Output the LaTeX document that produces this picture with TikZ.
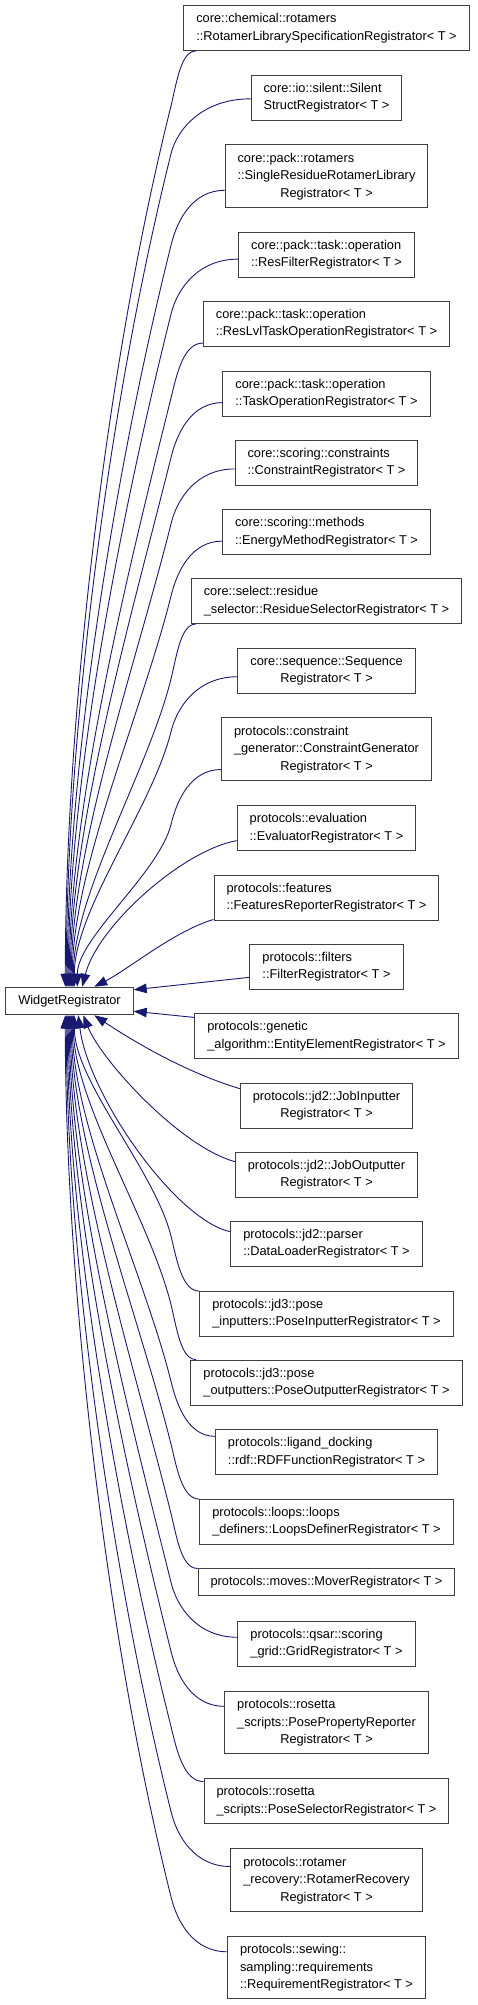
\documentclass[tikz,border=0pt]{standalone}
\usepackage{fontspec}
\setmainfont{Liberation Sans}
\usepackage{tikz}
\usetikzlibrary{arrows.meta,calc}
\definecolor{EdgeBlue}{RGB}{25,25,112}
\definecolor{BoxLine}{RGB}{64,64,64}
\newcommand{\cname}[1]{\begin{tabular}{@{}l@{}}#1\end{tabular}}
\newcommand{\lastc}[1]{\multicolumn{1}{@{}c@{}}{#1}}

\begin{document}
\begin{tikzpicture}[x=1pt,y=-1pt,
  klass/.style={draw=BoxLine,line width=1pt,fill=white,inner xsep=12.5pt,inner ysep=5pt,
    font=\fontsize{12.8}{17.5}\selectfont},
  inh/.style={EdgeBlue,line width=0.9pt,-{Triangle[length=13pt,width=9.5pt]}}]
  \useasboundingbox (0,0) rectangle (477,2005);
  % base class
  \node[klass,minimum width=127pt] (w) at (69.5,1001) {\cname{WidgetRegistrator}};
  % derived registrators, one column
  \node[klass] (c1) at (326.5,28) {\cname{core::chemical::rotamers\\\lastc{::RotamerLibrarySpecificationRegistrator< T >}}};
  \node[klass] (c2) at (326.5,97.5) {\cname{core::io::silent::Silent\\\lastc{StructRegistrator< T >}}};
  \node[klass] (c3) at (326.5,176) {\cname{core::pack::rotamers\\::SingleResidueRotamerLibrary\\\lastc{Registrator< T >}}};
  \node[klass] (c4) at (326.5,254.5) {\cname{core::pack::task::operation\\\lastc{::ResFilterRegistrator< T >}}};
  \node[klass] (c5) at (326.5,323.5) {\cname{core::pack::task::operation\\\lastc{::ResLvlTaskOperationRegistrator< T >}}};
  \node[klass] (c6) at (326.5,393.5) {\cname{core::pack::task::operation\\\lastc{::TaskOperationRegistrator< T >}}};
  \node[klass] (c7) at (326.5,462.5) {\cname{core::scoring::constraints\\\lastc{::ConstraintRegistrator< T >}}};
  \node[klass] (c8) at (326.5,532) {\cname{core::scoring::methods\\\lastc{::EnergyMethodRegistrator< T >}}};
  \node[klass] (c9) at (326.5,601) {\cname{core::select::residue\\\lastc{\_selector::ResidueSelectorRegistrator< T >}}};
  \node[klass] (c10) at (326.5,670.5) {\cname{core::sequence::Sequence\\\lastc{Registrator< T >}}};
  \node[klass] (c11) at (326.5,749) {\cname{protocols::constraint\\\_generator::ConstraintGenerator\\\lastc{Registrator< T >}}};
  \node[klass] (c12) at (326.5,828) {\cname{protocols::evaluation\\\lastc{::EvaluatorRegistrator< T >}}};
  \node[klass] (c13) at (326.5,897.5) {\cname{protocols::features\\\lastc{::FeaturesReporterRegistrator< T >}}};
  \node[klass] (c14) at (326.5,966.5) {\cname{protocols::filters\\\lastc{::FilterRegistrator< T >}}};
  \node[klass] (c15) at (326.5,1036) {\cname{protocols::genetic\\\lastc{\_algorithm::EntityElementRegistrator< T >}}};
  \node[klass] (c16) at (326.5,1105.5) {\cname{protocols::jd2::JobInputter\\\lastc{Registrator< T >}}};
  \node[klass] (c17) at (326.5,1174.5) {\cname{protocols::jd2::JobOutputter\\\lastc{Registrator< T >}}};
  \node[klass] (c18) at (326.5,1243.5) {\cname{protocols::jd2::parser\\\lastc{::DataLoaderRegistrator< T >}}};
  \node[klass] (c19) at (326.5,1313.5) {\cname{protocols::jd3::pose\\\lastc{\_inputters::PoseInputterRegistrator< T >}}};
  \node[klass] (c20) at (326.5,1382.5) {\cname{protocols::jd3::pose\\\lastc{\_outputters::PoseOutputterRegistrator< T >}}};
  \node[klass] (c21) at (326.5,1452) {\cname{protocols::ligand\_docking\\\lastc{::rdf::RDFFunctionRegistrator< T >}}};
  \node[klass] (c22) at (326.5,1521.5) {\cname{protocols::loops::loops\\\lastc{\_definers::LoopsDefinerRegistrator< T >}}};
  \node[klass] (c23) at (326.5,1582) {\cname{protocols::moves::MoverRegistrator< T >}};
  \node[klass] (c24) at (326.5,1643.5) {\cname{protocols::qsar::scoring\\\lastc{\_grid::GridRegistrator< T >}}};
  \node[klass] (c25) at (326.5,1722.5) {\cname{protocols::rosetta\\\_scripts::PosePropertyReporter\\\lastc{Registrator< T >}}};
  \node[klass] (c26) at (326.5,1801) {\cname{protocols::rosetta\\\lastc{\_scripts::PoseSelectorRegistrator< T >}}};
  \node[klass] (c27) at (326.5,1880) {\cname{protocols::rotamer\\\_recovery::RotamerRecovery\\\lastc{Registrator< T >}}};
  \node[klass] (c28) at (326.5,1967.5) {\cname{protocols::sewing::\\sampling::requirements\\\lastc{::RequirementRegistrator< T >}}};
  % long edges into the top of the base (bend near x=171)
  \foreach \i/\a/\t in {1/190/60,2/181/61,3/188/62,4/183/63,5/189/64,6/185/65,
      7/184/66,8/185/67,9/190/68,10/184/69,11/191/72}
    \draw[inh] let \p1=(c\i.\a), \p2=($(w.north west)+(\t,0)$), \n1={0.3*(\y1-55pt-\y2)} in
      (\p1) .. controls +({-0.6*(\x1-171pt)},0pt) and +(6pt,25pt) .. (171pt,\y1-55pt)
      .. controls +({-0.25*\n1},{-\n1}) and +(0pt,\n1) .. (\p2);
  % short ones, near the base
  \draw[inh] (c12.188) .. controls +(-55,10) and +(15,-60) .. ($(w.north west)+(77,0)$);
  \draw[inh] (c13.191) .. controls +(-40,12) and +(35,-18) .. ($(w.north west)+(89,0)$);
  \draw[inh] (c14.188) -- ($(w.north east)+(0,3)$);
  \draw[inh] (c15.172) -- ($(w.south east)+(0,-4)$);
  \draw[inh] (c16.169) .. controls +(-60,-18) and +(30,20) .. ($(w.south west)+(89,0)$);
  \draw[inh] (c17.172) .. controls +(-55,-15) and +(18,45) .. ($(w.south west)+(78,0)$);
  \draw[inh] (c18.173) .. controls +(-55,-12) and +(10,80) .. ($(w.south west)+(73,0)$);
  % long edges into the bottom of the base
  \foreach \i/\a/\t in {19/170/69,20/170/68,21/172/67,22/170/66,23/174/65,
      24/176/64,25/171/63,26/171/62,27/172/61,28/171/60}
    \draw[inh] let \p1=(c\i.\a), \p2=($(w.south west)+(\t,0)$), \n1={0.3*(\y2-\y1-55pt)} in
      (\p1) .. controls +({-0.6*(\x1-171pt)},0pt) and +(6pt,-25pt) .. (171pt,\y1+55pt)
      .. controls +({-0.25*\n1},\n1) and +(0pt,-\n1) .. (\p2);
\end{tikzpicture}
\end{document}
